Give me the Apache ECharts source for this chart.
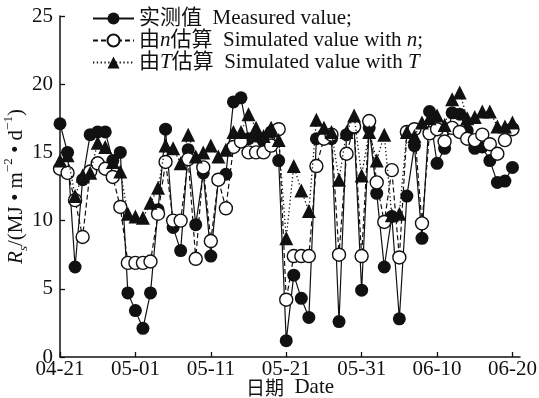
<!DOCTYPE html>
<html>
<head>
<meta charset="utf-8">
<script src="https://cdn.jsdelivr.net/npm/echarts@6/dist/echarts.min.js"></script>
<style>
  html, body { margin: 0; padding: 0; background: #fff; }
  #chart { width: 539px; height: 398px; }
</style>
</head>
<body>
<div id="chart"></div>
<script>
// Daily solar radiation Rs (MJ m-2 d-1), one value per day starting 04-21
const dateTicks = ['04-21', '05-01', '05-11', '05-21', '05-31', '06-10', '06-20'];

const measured = [
  17.1, 15.0, 6.6, 13.0, 16.3, 16.5, 16.5, 14.4, 15.0, 4.7,
  3.4, 2.1, 4.7, 10.8, 16.7, 9.5, 7.8, 15.2, 9.7, 13.5,
  7.4, 13.0, 13.4, 18.7, 19.0, 16.0, 16.2, 15.8, 16.5, 14.4,
  1.2, 6.0, 4.3, 2.9, 16.0, 16.3, 16.0, 2.6, 16.3, 16.8,
  4.9, 16.8, 12.0, 6.6, 10.3, 2.8, 11.8, 15.5, 8.7, 18.0,
  14.2, 15.3, 17.9, 17.8, 16.6, 15.3, 15.4, 14.4, 12.8, 12.9,
  13.9
];

const simN = [
  13.8, 13.5, 11.5, 8.8, 13.6, 14.2, 13.8, 13.2, 11.0, 6.9,
  6.9, 6.9, 7.0, 10.5, 14.3, 10.0, 10.0, 14.5, 7.2, 13.9,
  8.5, 13.0, 10.9, 15.4, 15.8, 15.0, 15.0, 15.0, 15.5, 16.7,
  4.2, 7.4, 7.4, 7.4, 14.0, 16.0, 16.3, 7.5, 14.9, 16.9,
  7.4, 17.3, 12.8, 9.9, 13.7, 7.3, 16.5, 16.7, 9.8, 16.4,
  16.7, 15.8, 16.8, 16.5, 16.0, 15.9, 16.3, 15.6, 14.9, 15.9,
  16.7
];

const simT = [
  14.4, 14.8, 11.8, 13.3, 13.5, 15.7, 15.4, 14.3, 13.6, 10.5,
  10.3, 10.2, 11.3, 12.4, 15.5, 15.3, 14.2, 16.3, 14.7, 15.0,
  15.5, 14.7, 15.2, 16.5, 16.5, 17.8, 16.8, 16.2, 16.8, 15.9,
  8.7, 14.0, 12.2, 10.7, 17.4, 16.8, 16.5, 13.0, 16.5, 17.7,
  13.3, 16.5, 14.4, 16.3, 10.4, 10.5, 16.5, 16.2, 17.2, 17.5,
  17.7, 17.0, 18.9, 19.4, 17.5, 17.6, 18.0, 18.0, 16.9, 16.9,
  17.2
];

const seriesNames = ['实测值 Measured value;', '由n估算 Simulated value with n;', '由T估算 Simulated value with T'];
const legendRich = [
  '{a|实测值  Measured value;}',
  '{a|由}{i|n}{a|估算  Simulated value with }{i|n}{a|;}',
  '{a|由}{i|T}{a|估算  Simulated value with }{i|T}'
];

const toPoints = arr => arr.map((v, i) => [i, v]);

const ink = '#111';
const serif = '"Liberation Serif", "Times New Roman", "Noto Sans CJK SC", serif';
const fs = 21;

const chart = echarts.init(document.getElementById('chart'), null, { renderer: 'canvas' });

chart.setOption({
  backgroundColor: '#fff',
  animation: false,
  textStyle: { fontFamily: serif, color: ink },
  grid: { left: 60, right: 19, top: 16, bottom: 41, containLabel: false, outerBoundsMode: 'none' },
  legend: {
    orient: 'vertical',
    left: 92,
    top: 8,
    padding: 0,
    itemGap: 1,
    itemWidth: 41,
    itemHeight: 15,
    data: seriesNames,
    formatter: name => legendRich[seriesNames.indexOf(name)],
    textStyle: {
      fontFamily: serif,
      fontSize: fs,
      color: ink,
      rich: {
        a: { fontFamily: serif, fontSize: fs, color: ink, lineHeight: 21 },
        i: { fontFamily: serif, fontSize: fs, fontStyle: 'italic', color: ink, lineHeight: 21 }
      }
    }
  },
  xAxis: {
    type: 'value',
    min: 0,
    max: 61,
    interval: 10,
    splitLine: { show: false },
    axisLine: { lineStyle: { color: ink, width: 1.5 } },
    axisTick: { inside: true, length: 5, lineStyle: { color: ink, width: 1.3 }, customValues: [0, 10, 20, 30, 40, 50, 60] },
    axisLabel: {
      color: ink,
      fontFamily: serif,
      fontSize: fs,
      margin: 2,
      customValues: [0, 10, 20, 30, 40, 50, 60],
      formatter: v => (v % 10 === 0 && dateTicks[v / 10] !== undefined) ? dateTicks[v / 10] : ''
    },
    name: '{c|日期}{n|  Date}',
    nameLocation: 'middle',
    nameGap: 20,
    nameMoveOverlap: false,
    nameTextStyle: {
      rich: {
        c: { fontFamily: '"Noto Sans CJK SC", sans-serif', fontSize: 19, color: ink },
        n: { fontFamily: serif, fontSize: fs, color: ink }
      }
    }
  },
  yAxis: {
    type: 'value',
    min: 0,
    max: 25,
    interval: 5,
    splitLine: { show: false },
    axisLine: { show: true, lineStyle: { color: ink, width: 1.5 } },
    axisTick: { show: true, inside: true, length: 5, lineStyle: { color: ink, width: 1.3 } },
    axisLabel: { color: ink, fontFamily: serif, fontSize: fs, margin: 7 },
    name: '{i|R}{sub|s}{n|/(MJ • m}{sup|−2}{n| • d}{sup|−1}{n|)}',
    nameLocation: 'middle',
    nameRotate: 90,
    nameGap: 30,
    nameMoveOverlap: false,
    nameTextStyle: {
      rich: {
        i: { fontFamily: serif, fontSize: fs, fontStyle: 'italic', color: ink, lineHeight: 28 },
        n: { fontFamily: serif, fontSize: fs, color: ink, lineHeight: 28 },
        sub: { fontFamily: serif, fontSize: 13, fontStyle: 'italic', color: ink, lineHeight: 15, verticalAlign: 'bottom' },
        sup: { fontFamily: serif, fontSize: 13, color: ink, lineHeight: 15, verticalAlign: 'top' }
      }
    }
  },
  series: [
    {
      name: seriesNames[0],
      type: 'line',
      data: toPoints(measured),
      symbol: 'circle',
      symbolSize: 13,
      itemStyle: { color: ink, borderWidth: 0 },
      lineStyle: { color: ink, width: 1.2, type: 'solid' },
      z: 2
    },
    {
      name: seriesNames[1],
      type: 'line',
      data: toPoints(simN),
      symbol: 'circle',
      symbolSize: 13,
      itemStyle: { color: '#fff', borderColor: ink, borderWidth: 1.4 },
      lineStyle: { color: ink, width: 1.2, type: [5, 3] },
      z: 3
    },
    {
      name: seriesNames[2],
      type: 'line',
      data: toPoints(simT),
      symbol: 'triangle',
      symbolSize: 14,
      itemStyle: { color: ink, borderWidth: 0 },
      lineStyle: { color: ink, width: 1.3, type: [1.3, 2.5] },
      z: 4
    }
  ]
});
</script>
</body>
</html>
